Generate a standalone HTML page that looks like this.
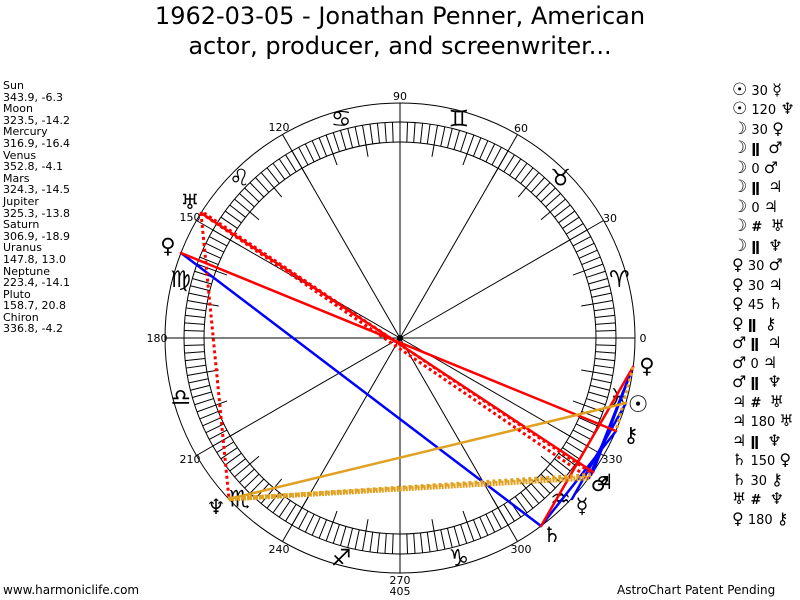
<!DOCTYPE html>
<html><head><meta charset="utf-8">
<style>
html,body{margin:0;padding:0;background:#fff;}
body{width:800px;height:600px;position:relative;overflow:hidden;font-family:"Liberation Sans","DejaVu Sans",sans-serif;}
.t{position:absolute;left:0;width:800px;text-align:center;font-size:24px;color:#000;font-family:"DejaVu Sans","Liberation Sans",sans-serif;}
#left{position:absolute;left:3px;top:80px;font-size:11px;line-height:11.6px;color:#000;font-family:"DejaVu Sans","Liberation Sans",sans-serif;}
.bot{position:absolute;top:583px;font-size:12px;font-family:"DejaVu Sans","Liberation Sans",sans-serif;}
svg{position:absolute;left:0;top:0;}
</style></head><body>
<div class="t" style="top:2px">1962-03-05 - Jonathan Penner, American</div>
<div class="t" style="top:32px">actor, producer, and screenwriter...</div>
<div id="left">Sun<br>343.9, -6.3<br>Moon<br>323.5, -14.2<br>Mercury<br>316.9, -16.4<br>Venus<br>352.8, -4.1<br>Mars<br>324.3, -14.5<br>Jupiter<br>325.3, -13.8<br>Saturn<br>306.9, -18.9<br>Uranus<br>147.8, 13.0<br>Neptune<br>223.4, -14.1<br>Pluto<br>158.7, 20.8<br>Chiron<br>336.8, -4.2</div>
<div class="bot" style="left:3px">www.harmoniclife.com</div>
<div class="bot" style="left:617px">AstroChart Patent Pending</div>
<svg id="s" width="800" height="600" viewBox="0 0 800 600" font-family="DejaVu Sans, sans-serif">
<g id="ring" stroke="#000" stroke-width="1" fill="none">
<circle cx="400" cy="338" r="235"/>
<circle cx="400" cy="338" r="216"/>
<circle cx="400" cy="338" r="196"/>
</g>
<g id="ticks" stroke="#000" stroke-width="1"></g>
<circle cx="400" cy="338" r="3" fill="#000"/>
<g font-size="11" fill="#000" text-anchor="middle" font-family="DejaVu Sans, sans-serif">
<text x="400" y="100">90</text>
<text x="521" y="132">60</text>
<text x="610" y="222">30</text>
<text x="643" y="342">0</text>
<text x="612" y="463">330</text>
<text x="521" y="553">300</text>
<text x="400" y="584">270</text>
<text x="400" y="595">405</text>
<text x="279" y="131">120</text>
<text x="190" y="221">150</text>
<text x="157" y="342">180</text>
<text x="190" y="463">210</text>
<text x="279" y="553">240</text>
</g>
<g font-size="23" font-weight="bold" fill="#000" text-anchor="middle" id="signs"></g>
<g stroke-width="2.5" fill="none" stroke-linecap="round">
<line x1="541" y1="526" x2="181" y2="253" stroke="#0000ff"/>
<line x1="626" y1="403" x2="572" y2="499" stroke="#0000ff"/>
<line x1="589" y1="478" x2="633" y2="367" stroke="#0000ff"/>
<line x1="591" y1="475" x2="633" y2="367" stroke="#0000ff"/>
<line x1="593" y1="472" x2="633" y2="367" stroke="#0000ff"/>
<line x1="541" y1="526" x2="616" y2="431" stroke="#0000ff"/>
<line x1="201" y1="213" x2="593" y2="472" stroke="#ff0000"/>
<line x1="181" y1="253" x2="616" y2="431" stroke="#ff0000"/>
<line x1="633" y1="367" x2="541" y2="526" stroke="#ff0000"/>
<line x1="229" y1="499" x2="626" y2="403" stroke="#e0a020"/>
</g>
<g stroke-width="3" fill="none" stroke-dasharray="3,3">
<line x1="201" y1="213" x2="589" y2="478" stroke="#ff0000"/>
<line x1="201" y1="213" x2="229" y2="499" stroke="#ff0000"/>
<line x1="204" y1="213" x2="593" y2="474" stroke="#ff0000"/>
<line x1="229" y1="499" x2="589" y2="478" stroke="#e0a020" stroke-width="5" stroke-dasharray="2,1"/>
<line x1="229" y1="499" x2="591" y2="475" stroke="#e0a020" stroke-width="4"/>
<line x1="633" y1="367" x2="616" y2="431" stroke="#e0a020"/>
</g>
<g font-size="21" font-weight="bold" fill="#000" text-anchor="middle">
<text x="647" y="373">♀</text>
<text x="638" y="412" font-size="23">☉</text>
<text x="631" y="442">⚷</text>
<text x="604" y="489">♃</text>
<text x="600" y="491">♂</text>
<text x="582" y="513">☿</text>
<text x="552" y="542">♄</text>
<text x="190" y="209">♅</text>
<text x="168" y="253">♀</text>
<text x="216" y="514">♆</text>
</g>
<g font-size="13" fill="#000" font-family="DejaVu Sans, sans-serif" id="asp">
<text x="732" y="95"><tspan font-size="17" font-weight="bold">☉</tspan> 30 <tspan font-size="16">☿</tspan></text>
<text x="732" y="114"><tspan font-size="17" font-weight="bold">☉</tspan> 120 <tspan font-size="16">♆</tspan></text>
<text x="732" y="134"><tspan font-size="17" font-weight="bold">☽</tspan> 30 <tspan font-size="16">♀</tspan></text>
<text x="732" y="153"><tspan font-size="17" font-weight="bold">☽</tspan> <tspan font-weight="bold">ǁ</tspan> &#160;<tspan font-size="16">♂</tspan></text>
<text x="732" y="173"><tspan font-size="17" font-weight="bold">☽</tspan> 0 <tspan font-size="16">♂</tspan></text>
<text x="732" y="192"><tspan font-size="17" font-weight="bold">☽</tspan> <tspan font-weight="bold">ǁ</tspan> &#160;<tspan font-size="16">♃</tspan></text>
<text x="732" y="212"><tspan font-size="17" font-weight="bold">☽</tspan> 0 <tspan font-size="16">♃</tspan></text>
<text x="732" y="231"><tspan font-size="17" font-weight="bold">☽</tspan> <tspan font-weight="bold">#</tspan> &#160;<tspan font-size="16">♅</tspan></text>
<text x="732" y="251"><tspan font-size="17" font-weight="bold">☽</tspan> <tspan font-weight="bold">ǁ</tspan> &#160;<tspan font-size="16">♆</tspan></text>
<text x="732" y="270"><tspan font-size="16">♀</tspan> 30 <tspan font-size="16">♂</tspan></text>
<text x="732" y="290"><tspan font-size="16">♀</tspan> 30 <tspan font-size="16">♃</tspan></text>
<text x="732" y="309"><tspan font-size="16">♀</tspan> 45 <tspan font-size="16">♄</tspan></text>
<text x="732" y="329"><tspan font-size="16">♀</tspan> <tspan font-weight="bold">ǁ</tspan> &#160;<tspan font-size="16">⚷</tspan></text>
<text x="732" y="348"><tspan font-size="16">♂</tspan> <tspan font-weight="bold">ǁ</tspan> &#160;<tspan font-size="16">♃</tspan></text>
<text x="732" y="368"><tspan font-size="16">♂</tspan> 0 <tspan font-size="16">♃</tspan></text>
<text x="732" y="387"><tspan font-size="16">♂</tspan> <tspan font-weight="bold">ǁ</tspan> &#160;<tspan font-size="16">♆</tspan></text>
<text x="732" y="407"><tspan font-size="16">♃</tspan> <tspan font-weight="bold">#</tspan> &#160;<tspan font-size="16">♅</tspan></text>
<text x="732" y="426"><tspan font-size="16">♃</tspan> 180 <tspan font-size="16">♅</tspan></text>
<text x="732" y="446"><tspan font-size="16">♃</tspan> <tspan font-weight="bold">ǁ</tspan> &#160;<tspan font-size="16">♆</tspan></text>
<text x="732" y="465"><tspan font-size="16">♄</tspan> 150 <tspan font-size="16">♀</tspan></text>
<text x="732" y="485"><tspan font-size="16">♄</tspan> 30 <tspan font-size="16">⚷</tspan></text>
<text x="732" y="504"><tspan font-size="16">♅</tspan> <tspan font-weight="bold">#</tspan> &#160;<tspan font-size="16">♆</tspan></text>
<text x="732" y="524"><tspan font-size="16">♀</tspan> 180 <tspan font-size="16">⚷</tspan></text>
</g>
</svg>
<script>
(function(){
var ns="http://www.w3.org/2000/svg",cx=400,cy=338,t=document.getElementById("ticks");
function L(a,r1,r2,g){var c=Math.cos(a*Math.PI/180),s=Math.sin(a*Math.PI/180);var l=document.createElementNS(ns,"line");
l.setAttribute("x1",cx+r1*c);l.setAttribute("y1",cy-r1*s);l.setAttribute("x2",cx+r2*c);l.setAttribute("y2",cy-r2*s);g.appendChild(l);}
for(var a=0;a<360;a+=2)L(a,196,216,t);
for(var a=0;a<360;a+=10)L(a,184,196,t);
for(var a=0;a<360;a+=30)L(a,0,235,t);
var sg=document.getElementById("signs"),gl="♈♉♊♋♌♍♎♏♐♑♒♓";
for(var i=0;i<12;i++){var a=(15+30*i)*Math.PI/180;var x=document.createElementNS(ns,"text");
x.setAttribute("x",cx+227*Math.cos(a));x.setAttribute("y",cy-227*Math.sin(a)+8);x.textContent=gl[i];sg.appendChild(x);}
})();
</script>
</body></html>
